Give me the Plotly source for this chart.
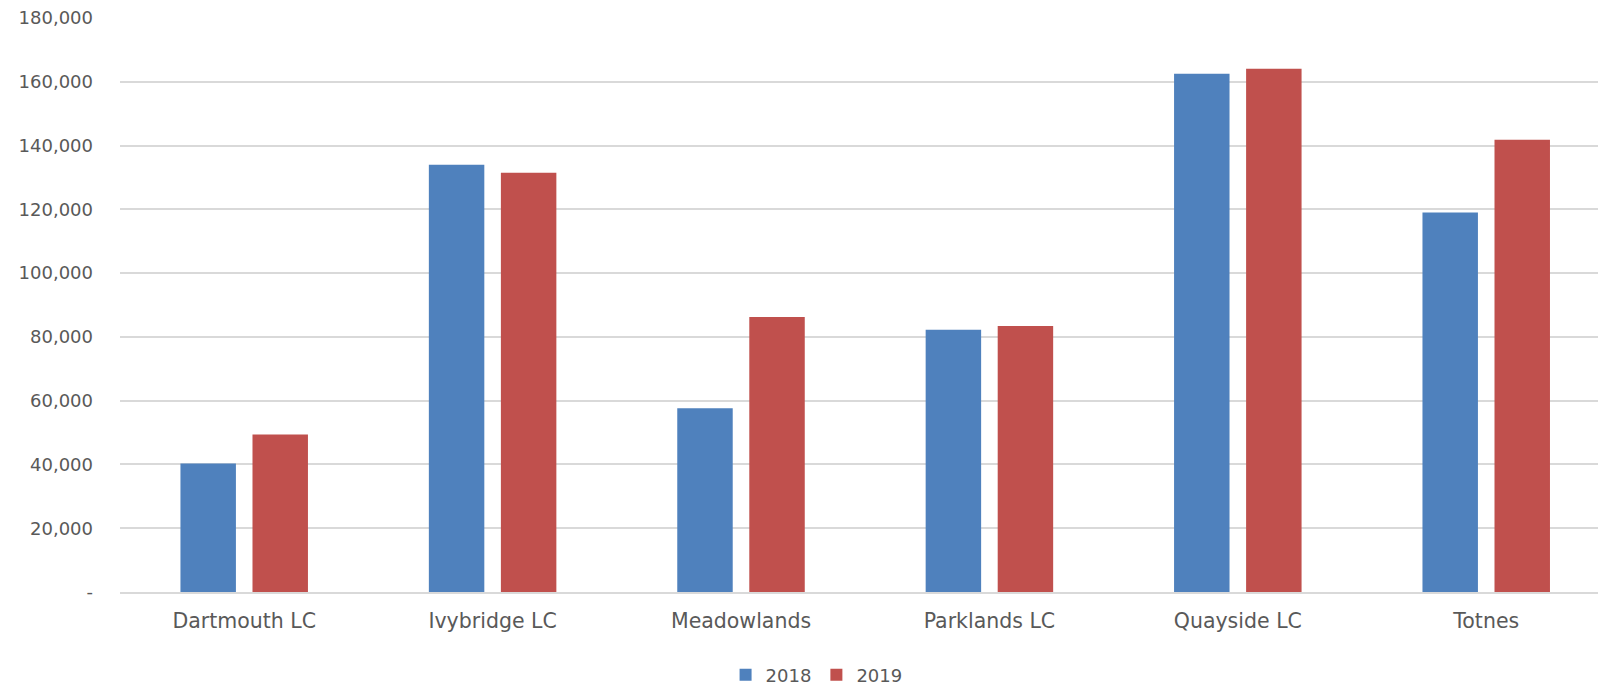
import plotly.graph_objects as go

# Visitor numbers per leisure centre, by year
centres = ["Dartmouth LC", "Ivybridge LC", "Meadowlands", "Parklands LC", "Quayside LC", "Totnes"]
visits_2018 = [40300, 134000, 57600, 82200, 162500, 119000]
visits_2019 = [49400, 131500, 86200, 83400, 164100, 141800]

y_tick_vals = [0, 20000, 40000, 60000, 80000, 100000, 120000, 140000, 160000, 180000]
y_tick_text = ["-", "20,000", "40,000", "60,000", "80,000", "100,000", "120,000", "140,000", "160,000", "180,000"]

FONT = "DejaVu Sans, sans-serif"
GREY = "#595959"
GRID = "#d9d9d9"

fig = go.Figure()
fig.add_trace(go.Bar(name="2018", x=centres, y=visits_2018, marker_color="#4F81BD",
                     marker_line_width=0))
fig.add_trace(go.Bar(name="2019", x=centres, y=visits_2019, marker_color="#C0504D",
                     marker_line_width=0))

fig.update_layout(
    width=1598, height=686,
    margin=dict(l=120, r=0, t=18, b=94),
    paper_bgcolor="white", plot_bgcolor="white",
    barmode="group", bargap=0.42, bargroupgap=0.23,
    font=dict(family=FONT, color=GREY, size=18),
    showlegend=True,
    legend=dict(orientation="h", x=0.511, xref="container", xanchor="center",
                y=0.016, yref="container", yanchor="middle",
                font=dict(size=18, color=GREY), itemwidth=30, traceorder="normal"),
)
fig.update_xaxes(
    type="category", range=[-0.5, 5.45], automargin=False,
    showgrid=False, showline=True, linecolor=GRID, linewidth=1.5,
    ticks="", tickfont=dict(size=20.5, color=GREY), ticklabelstandoff=10,
)
fig.update_yaxes(
    range=[0, 180000], tickvals=y_tick_vals, ticktext=y_tick_text, automargin=False,
    showgrid=True, gridcolor=GRID, gridwidth=1.5, zeroline=False,
    showline=False, ticks="", tickfont=dict(size=18, color=GREY),
    ticklabelstandoff=26,
)

fig.write_html("out.html")
